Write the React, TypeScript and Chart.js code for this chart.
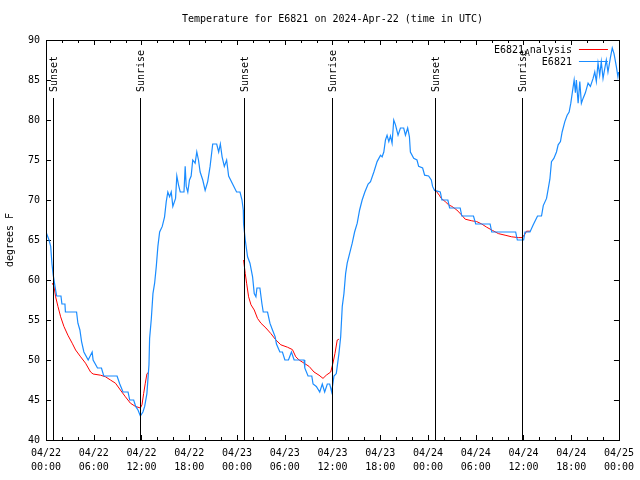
import React, { useEffect, useRef } from "react";
import { Chart, registerables } from "chart.js";

Chart.register(...registerables);

const chartTitle = "Temperature for E6821 on 2024-Apr-22 (time in UTC)";
const yAxisTitle = "degrees F";
const startDay = 22;

// x values are hours since 04/22 00:00 UTC
const xTickHours = [0, 6, 12, 18, 24, 30, 36, 42, 48, 54, 60, 66, 72];
const yTickValues = [40, 45, 50, 55, 60, 65, 70, 75, 80, 85, 90];

const sunEventHours = [0.9, 11.83, 24.82, 35.9, 48.87, 59.77];
const sunEventLabels = ["Sunset", "Sunrise", "Sunset", "Sunrise", "Sunset", "Sunrise"];

const stationName = "E6821";
const stationHours = [
  0.0, 0.38, 0.59, 0.75, 0.91, 1.13, 1.34, 1.88, 2.0, 2.38, 2.44, 3.84, 4.01, 4.26, 4.47, 4.76, 5.3, 5.8, 5.92, 6.47,
  6.97, 7.26, 8.93, 9.27, 9.68, 10.31, 10.52, 11.02, 11.27, 11.56, 11.86, 12.18, 12.4, 12.68, 12.94, 13.02, 13.23,
  13.44, 13.65, 13.86, 14.06, 14.28, 14.61, 14.9, 15.11, 15.31, 15.53, 15.74, 15.94, 16.28, 16.44, 16.65, 16.87,
  17.34, 17.49, 17.62, 17.82, 18.03, 18.24, 18.44, 18.74, 18.95, 19.16, 19.37, 19.7, 20.0, 20.32, 20.62, 20.95,
  21.45, 21.7, 21.91, 22.13, 22.41, 22.7, 22.95, 23.45, 23.95, 24.38, 24.63, 24.79, 24.83, 25.04, 25.33, 25.63,
  25.96, 26.17, 26.38, 26.51, 26.88, 27.14, 27.3, 27.84, 28.14, 28.46, 28.8, 28.96, 29.39, 29.71, 30.02, 30.47,
  30.84, 31.18, 32.43, 32.52, 32.93, 33.4, 33.56, 33.97, 34.4, 34.72, 35.02, 35.35, 35.65, 35.9, 36.19, 36.48,
  36.81, 37.03, 37.23, 37.44, 37.65, 37.85, 38.15, 38.48, 38.78, 39.11, 39.41, 39.73, 40.07, 40.48, 40.78, 41.2,
  41.61, 42.04, 42.24, 42.45, 42.66, 42.86, 43.08, 43.29, 43.49, 43.7, 43.92, 44.24, 44.54, 44.95, 45.17, 45.45,
  45.67, 45.79, 46.21, 46.62, 46.83, 47.33, 47.58, 48.08, 48.42, 48.58, 48.83, 49.55, 49.75, 50.5, 50.72, 52.05,
  52.25, 53.72, 54.0, 55.81, 56.01, 59.02, 59.23, 60.02, 60.19, 60.82, 61.23, 61.77, 62.27, 62.49, 62.9, 63.11,
  63.32, 63.52, 63.82, 64.15, 64.36, 64.65, 64.86, 65.2, 65.49, 65.74, 65.95, 66.15, 66.37, 66.53, 66.65, 66.87,
  67.08, 67.28, 67.49, 67.78, 68.12, 68.41, 68.75, 68.96, 69.16, 69.37, 69.58, 69.78, 70.0, 70.21, 70.41, 70.62,
  70.91, 71.16, 71.38, 71.67, 71.87, 71.96,
];
const stationTemps = [
  66, 65, 64.2, 62, 60.6, 59.2, 58, 58, 57, 57, 56, 56, 54.6, 53.75, 52.3, 51, 50, 51, 50, 49,
  49, 48, 48, 47, 46, 46, 45, 45, 44.2, 43.75, 43, 43.5, 44.2, 45.8, 49.4, 52.7, 55.1,
  58.3, 59.6, 61.7, 64.2, 66, 66.7, 67.9, 69.8, 71, 70.4, 71, 69.2, 70.2, 73, 71.9, 71,
  71, 74.2, 71.7, 71, 72.5, 73, 75, 74.6, 76, 75, 73.5, 72.5, 71.2, 72.3, 74.2, 77,
  77, 76, 77, 75.4, 74.2, 75, 73, 72, 71, 71, 70, 68.75, 67, 65, 62.9, 62.1,
  60.4, 58.3, 57.9, 59, 59, 57, 56, 56, 54.6, 53.75, 52.9, 52, 51, 51, 50, 50,
  51, 50, 50, 49, 48, 48, 47, 46.7, 46, 47, 46, 47, 47, 46, 48, 48.3,
  50.8, 52.9, 56.7, 58.3, 60.8, 62.1, 63.3, 64.6, 66, 67.1, 68.75, 70, 71, 72, 72.3, 73.5,
  74.8, 75.6, 75.4, 76, 77.5, 78.1, 77.3, 78, 77.1, 80, 79.4, 78.1, 79, 79, 78.1, 79,
  77.9, 76, 75.2, 75, 74.2, 74, 73.1, 73, 72.5, 71.7, 71.2, 71, 70, 70, 69, 69,
  68, 68, 67, 67, 66, 66, 65, 65, 66, 66, 66.9, 68, 68, 69.3, 70.2, 71.4,
  72.6, 74.8, 75.2, 76, 76.9, 77.3, 78.5, 79.8, 80.6, 81, 82.1, 83.5, 85, 83.4, 85, 82.1,
  84.8, 82.1, 82.7, 83.4, 84.6, 84.2, 85.2, 86, 84.8, 87.1, 85.6, 87.3, 85.2, 86.4, 87.5, 86,
  87.7, 89, 88.3, 86.7, 85.4, 86,
];

const analysisName = "E6821_Analysis";
// null marks a break between night segments
const analysisHours = [
  0.79, 1.0, 1.21, 1.5, 1.84, 2.25, 2.75, 3.29, 3.72, 4.35, 4.97, 5.6, 5.92, 6.85, 7.48, 8.1, 8.73, 9.35, 9.98,
  10.61, 11.23, 11.86, 12.06, 12.27, 12.48, 12.68, 12.9,
  null,
  24.83, 25.04, 25.21, 25.46, 25.76, 26.17, 26.58, 27.01, 27.64, 28.26, 28.89, 29.51, 30.34, 30.97, 31.39, 31.81,
  32.43, 33.06, 33.68, 34.31, 34.81, 35.22, 35.78, 36.06, 36.31, 36.6, 36.81,
  null,
  48.83, 49.12, 49.42, 49.67, 50.17, 50.59, 51.0, 51.63, 52.25, 52.68, 53.51, 54.13, 54.76, 55.38, 56.1, 56.85,
  57.69, 58.52, 59.35, 59.85, 60.19, 60.39, 60.82,
];
const analysisTemps = [
  59.6, 59.2, 57.9, 56.7, 55.4, 54.2, 53.1, 52.1, 51.25, 50.4, 49.6, 48.5, 48.25, 48.1, 47.9, 47.5, 47.1, 46.25, 45.4,
  44.6, 44.2, 44.0, 44.4, 45.8, 47.1, 48.25, 48.5,
  null,
  62.5, 60.8, 59.6, 57.9, 56.9, 56.25, 55.2, 54.6, 54.0, 53.3, 52.5, 51.9, 51.6, 51.3, 50.4, 50,
  49.6, 49.2, 48.5, 48.1, 47.7, 48.1, 48.5, 49.6, 50.8, 52.5, 52.6,
  null,
  71.3, 71.0, 70.6, 70.2, 69.8, 69.4, 69.2, 68.75, 68.1, 67.6, 67.4, 67.3, 67.0, 66.6, 66.2, 65.8,
  65.6, 65.4, 65.3, 65.3, 65.75, 66.1, 66.1,
];

const FONT = "DejaVu Sans Mono";
const BLUE = "#1a8cff";
const RED = "#ff0000";

const pad2 = (n: number) => (n < 10 ? "0" + n : "" + n);

const decorPlugin = {
  id: "gnuplotDecor",
  beforeDatasetsDraw(chart: any) {
    const { ctx, chartArea } = chart;
    const xs = chart.scales.x;
    const ys = chart.scales.y;
    const { left, right, top, bottom } = chartArea;
    ctx.save();
    ctx.strokeStyle = "#000";
    ctx.lineWidth = 1;
    ctx.beginPath();
    // x ticks every 2 hours, major every 6
    for (let h = xs.min; h <= xs.max; h += 2) {
      const px = Math.round(xs.getPixelForValue(h)) + 0.5;
      const len = h % 6 === 0 ? 5 : 3;
      ctx.moveTo(px, top);
      ctx.lineTo(px, top + len);
      ctx.moveTo(px, bottom);
      ctx.lineTo(px, bottom - len);
    }
    for (const v of yTickValues) {
      const py = Math.round(ys.getPixelForValue(v)) + 0.5;
      ctx.moveTo(left, py);
      ctx.lineTo(left + 5, py);
      ctx.moveTo(right, py);
      ctx.lineTo(right - 5, py);
    }
    ctx.stroke();
    ctx.restore();
  },
  afterDatasetsDraw(chart: any) {
    const { ctx, chartArea } = chart;
    const xs = chart.scales.x;
    const { left, right, top, bottom } = chartArea;
    ctx.save();
    // frame
    ctx.strokeStyle = "#000";
    ctx.lineWidth = 1;
    ctx.strokeRect(Math.round(left) + 0.5, Math.round(top) + 0.5, Math.round(right - left), Math.round(bottom - top));
    // sunrise / sunset lines
    ctx.font = `10px "${FONT}"`;
    ctx.fillStyle = "#000";
    sunEventHours.forEach((h, i) => {
      const px = Math.round(xs.getPixelForValue(h)) + 0.5;
      ctx.beginPath();
      ctx.moveTo(px, top + 58);
      ctx.lineTo(px, bottom);
      ctx.stroke();
      ctx.save();
      ctx.translate(px + 1, top + 52);
      ctx.rotate(-Math.PI / 2);
      ctx.textAlign = "left";
      ctx.textBaseline = "middle";
      ctx.fillText(sunEventLabels[i], 0, 0);
      ctx.restore();
    });
    // legend
    const lineX1 = right - 40;
    const lineX2 = right - 11;
    const textRight = right - 47;
    const row1 = top + 10;
    const row2 = top + 22;
    ctx.textBaseline = "middle";
    // "E6821_Analysis" rendered with the subscript A as in the original
    const parts = analysisName.split("_");
    const restMain = parts[1].slice(1);
    const subChar = parts[1].slice(0, 1);
    ctx.font = `10px "${FONT}"`;
    const wRest = ctx.measureText(restMain).width;
    ctx.font = `8px "${FONT}"`;
    const wSub = ctx.measureText(subChar).width;
    ctx.font = `10px "${FONT}"`;
    ctx.textAlign = "right";
    ctx.fillText(restMain, textRight, row1);
    ctx.font = `8px "${FONT}"`;
    ctx.fillText(subChar, textRight - wRest, row1 + 4);
    ctx.font = `10px "${FONT}"`;
    ctx.fillText(parts[0], textRight - wRest - wSub - 1, row1);
    ctx.fillText(stationName, textRight, row2);
    ctx.lineWidth = 1;
    ctx.strokeStyle = RED;
    ctx.beginPath();
    ctx.moveTo(lineX1, Math.round(row1) - 0.5);
    ctx.lineTo(lineX2, Math.round(row1) - 0.5);
    ctx.stroke();
    ctx.strokeStyle = BLUE;
    ctx.beginPath();
    ctx.moveTo(lineX1, Math.round(row2) - 0.5);
    ctx.lineTo(lineX2, Math.round(row2) - 0.5);
    ctx.stroke();
    // title
    ctx.fillStyle = "#000";
    ctx.textAlign = "center";
    ctx.font = `10px "${FONT}"`;
    ctx.fillText(chartTitle, (left + right) / 2, 19);
    // y axis title
    ctx.save();
    ctx.translate(10, (top + bottom) / 2);
    ctx.rotate(-Math.PI / 2);
    ctx.textAlign = "center";
    ctx.fillText(yAxisTitle, 0, 0);
    ctx.restore();
    ctx.restore();
  },
};

export default function App() {
  const ref = useRef<HTMLCanvasElement | null>(null);
  useEffect(() => {
    if (!ref.current) return;
    const stationData = stationHours.map((h, i) => ({ x: h, y: stationTemps[i] }));
    const analysisData = analysisHours.map((h, i) =>
      h === null ? { x: (analysisHours[i - 1] as number) + 0.01, y: null } : { x: h, y: analysisTemps[i] }
    );
    const chart = new Chart(ref.current, {
      type: "line",
      data: {
        datasets: [
          {
            label: analysisName,
            data: analysisData as any,
            borderColor: RED,
            borderWidth: 1,
            pointRadius: 0,
            tension: 0,
            spanGaps: false,
            order: 2,
          },
          {
            label: stationName,
            data: stationData,
            borderColor: BLUE,
            borderWidth: 1.2,
            pointRadius: 0,
            tension: 0,
            order: 1,
          },
        ],
      },
      options: {
        responsive: false,
        animation: false,
        layout: { padding: { top: 40, right: 19, left: 0, bottom: 0 } },
        plugins: {
          legend: { display: false },
          title: { display: false },
          tooltip: { enabled: false },
        },
        scales: {
          x: {
            type: "linear",
            min: 0,
            max: 72,
            afterFit: (s: any) => {
              s.height = 40;
            },
            afterBuildTicks: (s: any) => {
              s.ticks = xTickHours.map((v) => ({ value: v }));
            },
            grid: { display: false, drawTicks: false },
            border: { display: false },
            ticks: {
              autoSkip: false,
              maxRotation: 0,
              minRotation: 0,
              padding: 6,
              color: "#000",
              font: { family: FONT, size: 10, lineHeight: 1.4 },
              callback: (v: any) => {
                const h = Number(v);
                const day = startDay + Math.floor(h / 24);
                return ["04/" + pad2(day), pad2(h % 24) + ":00"];
              },
            },
          },
          y: {
            type: "linear",
            min: 40,
            max: 90,
            afterFit: (s: any) => {
              s.width = 46;
            },
            afterBuildTicks: (s: any) => {
              s.ticks = yTickValues.map((v) => ({ value: v }));
            },
            grid: { display: false, drawTicks: false },
            border: { display: false },
            ticks: {
              padding: 6,
              color: "#000",
              font: { family: FONT, size: 10 },
              callback: (v: any) => String(v),
            },
          },
        },
      },
      plugins: [decorPlugin],
    });
    return () => chart.destroy();
  }, []);
  return (
    <div style={{ position: "absolute", left: 0, top: 0, width: 640, height: 480, background: "#fff" }}>
      <canvas ref={ref} width={640} height={480} style={{ display: "block" }} />
    </div>
  );
}
